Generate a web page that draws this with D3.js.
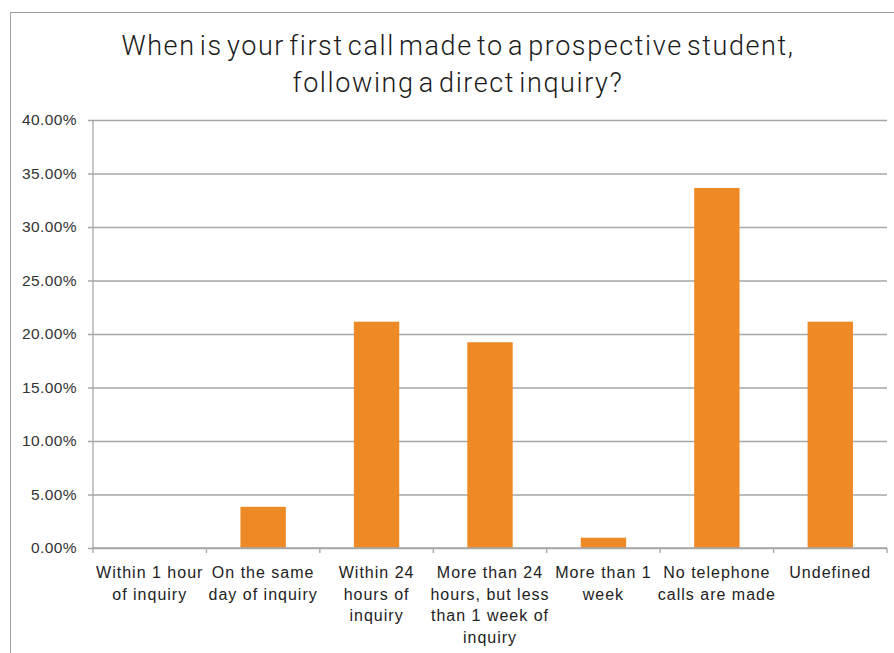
<!DOCTYPE html>
<html>
<head>
<meta charset="utf-8">
<script src="https://cdn.jsdelivr.net/npm/d3@7"></script>
<style>
  body { margin: 0; background: #fff; }
  svg text { font-family: "Liberation Sans", Arial, sans-serif; }
</style>
</head>
<body>
<div id="chart"></div>
<script>
// data (share of responses)
const categories = [
  "Within 1 hour of inquiry",
  "On the same day of inquiry",
  "Within 24 hours of inquiry",
  "More than 24 hours, but less than 1 week of inquiry",
  "More than 1 week",
  "No telephone calls are made",
  "Undefined"
];
const categoryLines = [
  ["Within 1 hour", "of inquiry"],
  ["On the same", "day of inquiry"],
  ["Within 24", "hours of", "inquiry"],
  ["More than 24", "hours, but less", "than 1 week of", "inquiry"],
  ["More than 1", "week"],
  ["No telephone", "calls are made"],
  ["Undefined"]
];
const values = [0, 0.0385, 0.2115, 0.1923, 0.0096, 0.3365, 0.2115];
const yTicks = [0, 0.05, 0.10, 0.15, 0.20, 0.25, 0.30, 0.35, 0.40];
const titleLines = [
  "When is your first call made to a prospective student,",
  "following a direct inquiry?"
];

const width = 894, height = 653;
const margin = {top: 120, right: 7, bottom: 105, left: 93};
const innerW = width - margin.left - margin.right;
const innerH = height - margin.top - margin.bottom;

const svg = d3.select("#chart").append("svg")
    .attr("width", width)
    .attr("height", height);

// chart border (cut off on the right and bottom)
svg.append("rect")
    .attr("x", 10.5).attr("y", 12.5)
    .attr("width", 900).attr("height", 700)
    .attr("fill", "none")
    .attr("stroke", "#a0a0a0")
    .attr("stroke-width", 1);

svg.append("g")
  .selectAll("text")
  .data(titleLines)
  .join("text")
    .attr("x", 458)
    .attr("y", (d, i) => 55 + i * 37)
    .attr("text-anchor", "middle")
    .attr("font-size", 27)
    .attr("fill", "#1a1a1a")
    .style("font-family", "Roboto, 'Liberation Sans', sans-serif")
    .style("font-weight", 300)
    .style("letter-spacing", "1.6px")
    .style("word-spacing", "-4px")
    .text(d => d);

const g = svg.append("g")
    .attr("transform", `translate(${margin.left}, ${margin.top})`);

const x = d3.scaleBand()
    .domain(categories)
    .range([0, innerW])
    .paddingInner(0.6)
    .paddingOuter(0.3);

const xTicks = d3.scaleBand()
    .domain(categories)
    .range([0, innerW]);

const y = d3.scaleLinear()
    .domain([0, 0.4])
    .range([innerH, 0]);

// gridlines + y axis
const yAxis = g.append("g")
    .call(d3.axisLeft(y)
      .tickValues(yTicks)
      .tickSize(-innerW)
      .tickPadding(16)
      .tickFormat(d3.format(".2%")));
yAxis.select(".domain").remove();
yAxis.selectAll(".tick line")
    .attr("x1", -5)
    .attr("stroke", "#a6a6a6")
    .attr("stroke-width", 1.3);
yAxis.selectAll(".tick text")
    .attr("font-size", 15.5)
    .attr("fill", "#333")
    .style("letter-spacing", "0.4px");

g.append("line")
    .attr("x1", 0).attr("x2", 0)
    .attr("y1", 0).attr("y2", innerH)
    .attr("stroke", "#a6a6a6")
    .attr("stroke-width", 1.3);

// bars
g.append("g")
  .selectAll("rect")
  .data(values)
  .join("rect")
    .attr("x", (d, i) => x(categories[i]))
    .attr("y", d => y(d))
    .attr("width", x.bandwidth())
    .attr("height", d => innerH - y(d))
    .attr("fill", "#ee8a25");

// x axis
const xAxis = g.append("g")
    .attr("transform", `translate(0, ${innerH})`);
xAxis.append("line")
    .attr("x1", 0).attr("x2", innerW)
    .attr("stroke", "#a6a6a6")
    .attr("stroke-width", 1.3);
const tickPos = categories.map(c => xTicks(c)).concat([innerW]);
xAxis.selectAll(".xtick")
  .data(tickPos)
  .join("line")
    .attr("class", "xtick")
    .attr("x1", d => d).attr("x2", d => d)
    .attr("y1", 0).attr("y2", 5)
    .attr("stroke", "#a6a6a6")
    .attr("stroke-width", 1.3);

const labels = xAxis.selectAll(".xlabel")
  .data(categories)
  .join("text")
    .attr("class", "xlabel")
    .attr("text-anchor", "middle")
    .attr("font-size", 16)
    .attr("fill", "#222")
    .style("letter-spacing", "1px")
    .attr("transform", d => `translate(${xTicks(d) + xTicks.bandwidth() / 2}, 30)`);
labels.selectAll("tspan")
  .data((d, i) => categoryLines[i])
  .join("tspan")
    .attr("x", 0)
    .attr("y", (d, i) => i * 21.7)
    .text(d => d);
</script>
</body>
</html>
